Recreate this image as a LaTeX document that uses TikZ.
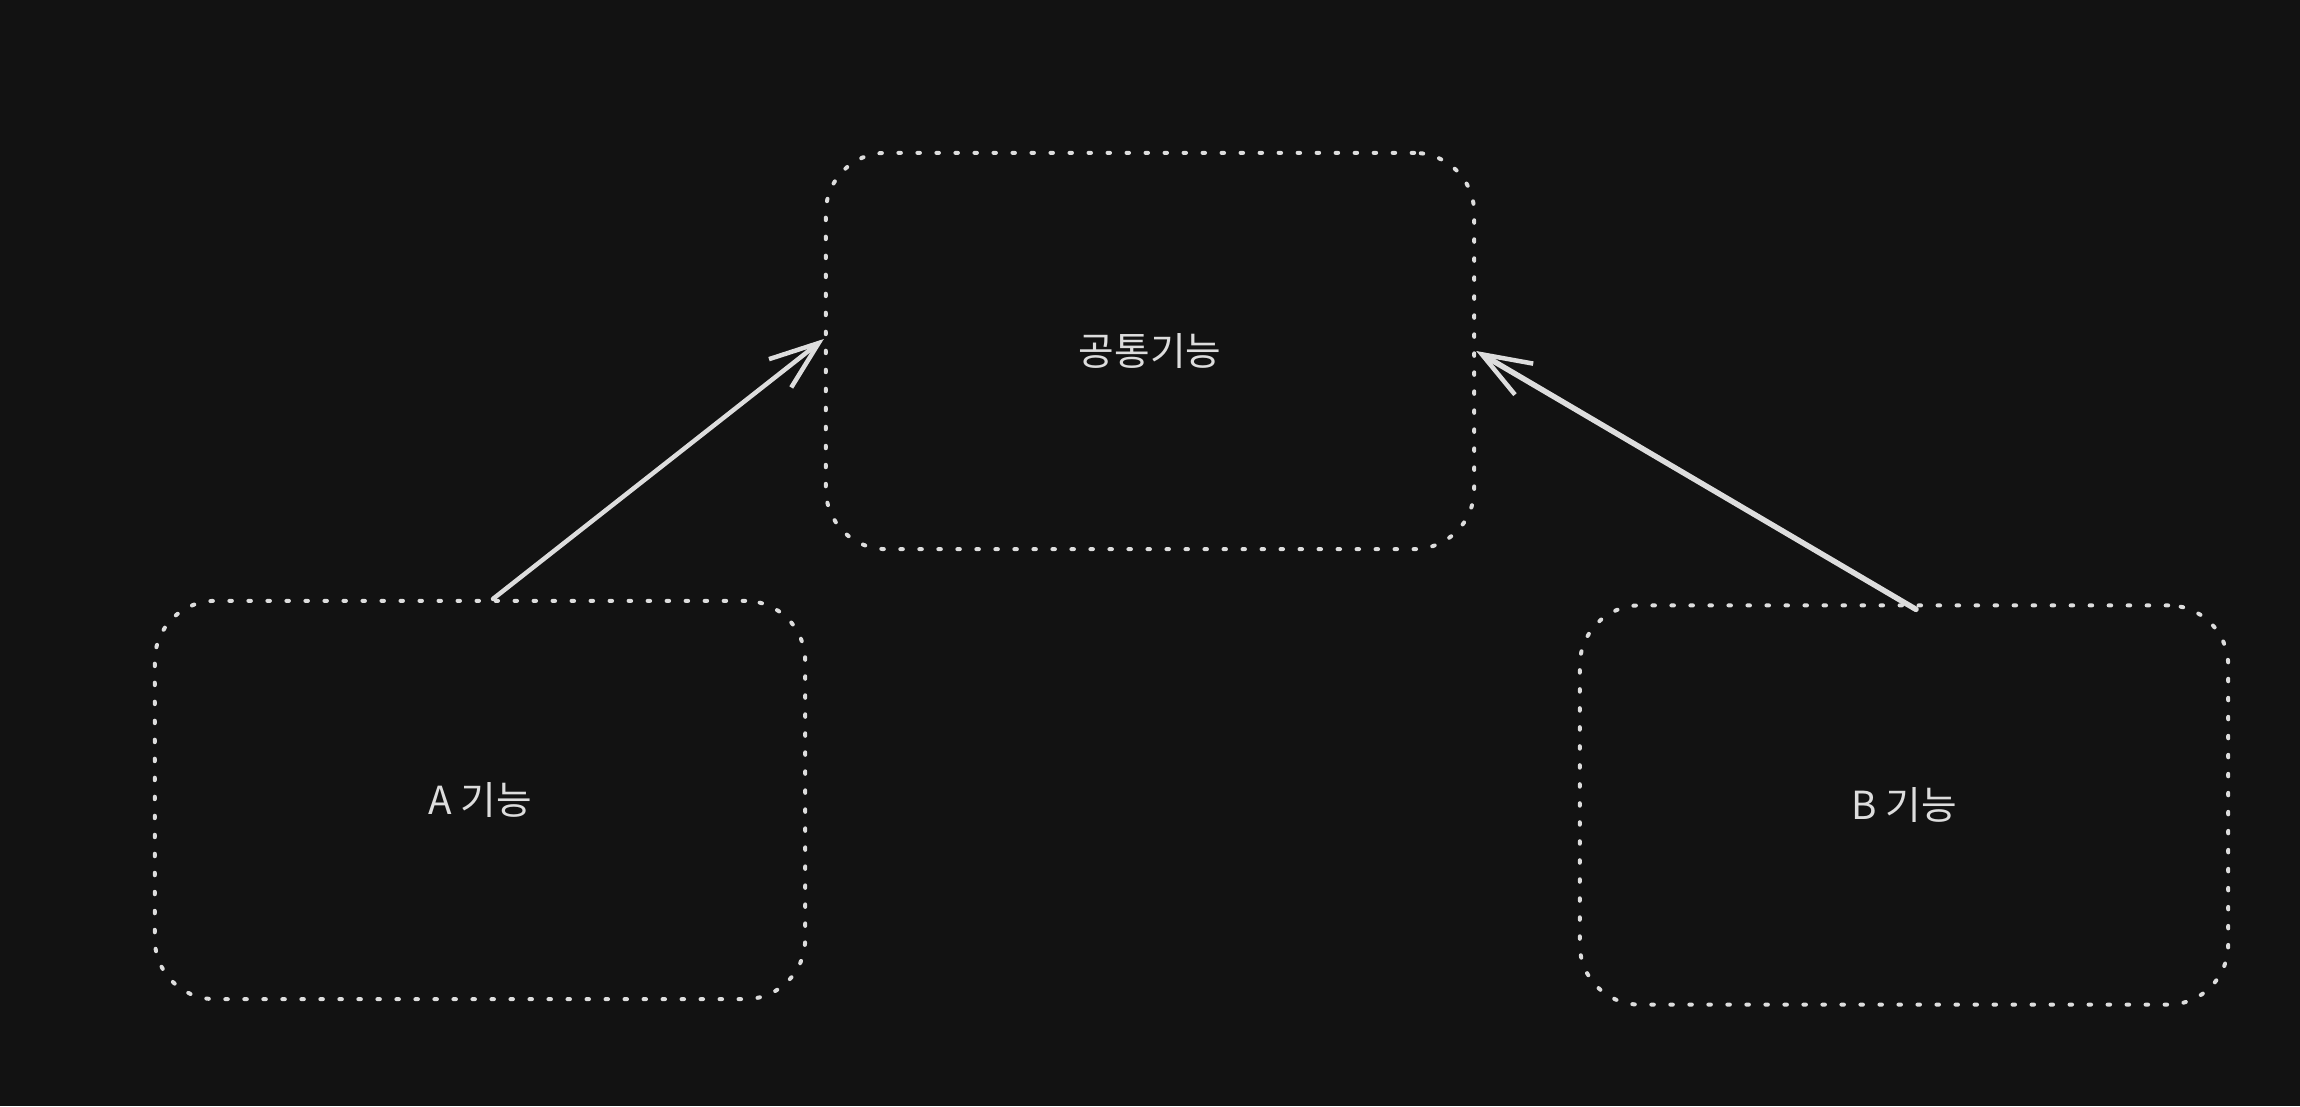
\documentclass[tikz,border=0pt]{standalone}
\usepackage{fontspec}
\setmainfont{Noto Sans CJK KR}
\usetikzlibrary{arrows.meta,calc}
\definecolor{bg}{HTML}{121212}
\definecolor{ink}{HTML}{DDDDDD}
\begin{document}
\begin{tikzpicture}[x=0.01cm,y=-0.01cm,
  box/.style={draw=ink, line width=0.04cm, dash pattern=on 0.025cm off 0.165cm, line cap=round,
    rounded corners=0.6cm, inner sep=0pt, text=ink, font=\fontsize{11}{13}\selectfont},
  conn/.style={draw=ink, line width=0.045cm, line cap=round, line join=round,
    -{Straight Barb[length=0.49cm,width=0.36cm,line width=0.045cm]}}]
\fill[bg] (0,0) rectangle (2300,1106);
\useasboundingbox (0,0) rectangle (2300,1106);
\node[box, minimum width=6.48cm, minimum height=3.96cm] (c) at (1150,351) {공통기능};
\node[box, minimum width=6.50cm, minimum height=3.98cm] (a) at (480,800) {A 기능};
\node[box, minimum width=6.48cm, minimum height=3.99cm] (b) at (1904,805) {B 기능};
\draw[conn] ([xshift=0.13cm]a.north) -- ([yshift=0.12cm,xshift=0.0cm]c.west);
\draw[conn, line width=0.055cm] ([xshift=0.12cm,yshift=-0.06cm]b.north) -- ([yshift=0.0cm]c.east);
\end{tikzpicture}
\end{document}
